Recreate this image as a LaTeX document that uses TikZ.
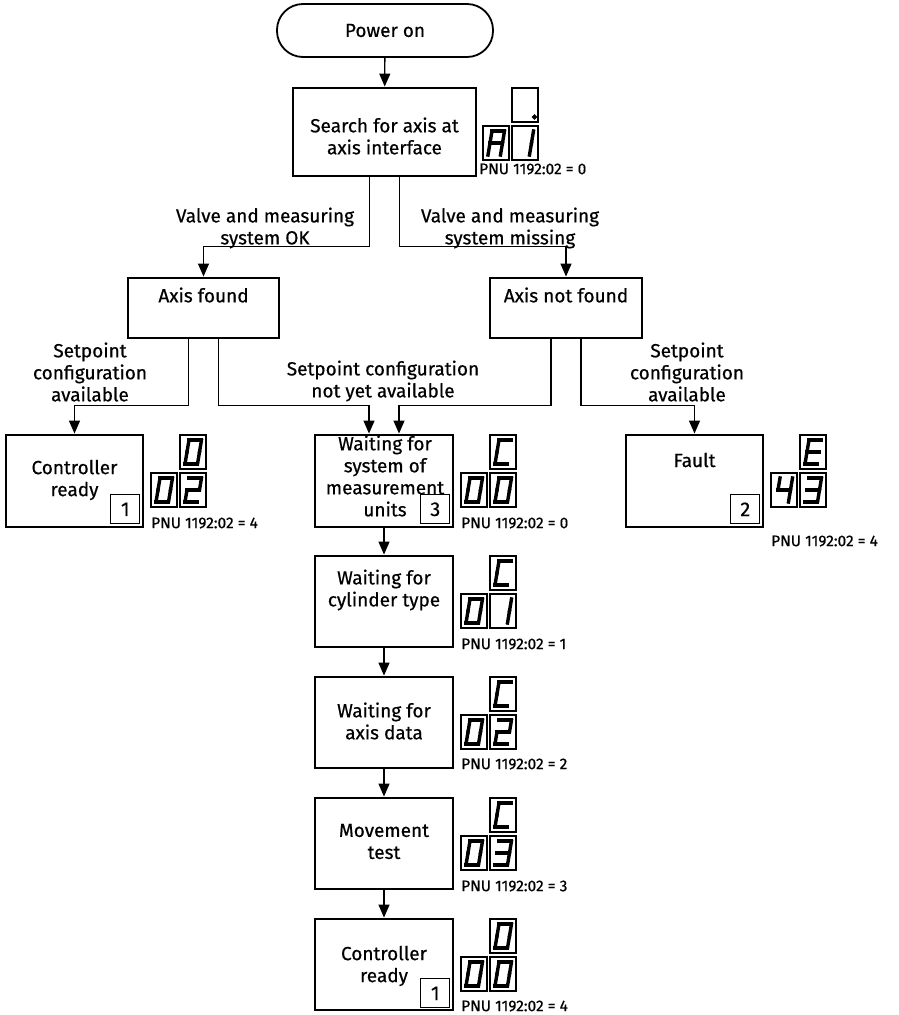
\documentclass[tikz,border=0pt]{standalone}
\usepackage{fontspec}
\setmainfont{Fira Sans}[FakeBold=0.5]
\usetikzlibrary{arrows.meta,calc}

% segment centre lines of one italic seven-segment digit (origin = top-left of its frame)
\def\segpa{(9,5)--(21.5,5)}
\def\segpb{(21.5,5)--(19.5,17)}
\def\segpc{(19.5,17)--(17.5,29)}
\def\segpd{(17.5,29)--(5,29)}
\def\segpe{(5,29)--(7,17)}
\def\segpf{(7,17)--(9,5)}
\def\segpg{(7,17)--(19.5,17)}
\def\segpp{(22.5,29) circle[radius=0.4]}

% which segments each character lights
\def\dZero{a,b,c,d,e,f}
\def\dOne{b,c}
\def\dTwo{a,b,g,e,d}
\def\dThree{a,b,g,c,d}
\def\dFour{f,g,b,c}
\def\dA{a,b,c,e,f,g}
\def\dC{a,f,e,d}
\def\dE{a,f,g,e,d}
\def\dDot{p}

\newcommand\digitbox[3]{%
  \draw[dbox] (#1,#2) rectangle ++(26,34);
  \foreach \s in #3 {\draw[seg,shift={(#1,#2)}] \csname segp\s\endcsname;}
}
% two-row display: #1,#2 = left edge / top edge, #3 top digit, #4 #5 lower digits
\newcommand\segdisplay[5]{%
  \digitbox{#1+29}{#2}{#3}
  \digitbox{#1}{#2+38}{#4}
  \digitbox{#1+29}{#2+38}{#5}
}

\begin{document}
\begin{tikzpicture}[x=1pt,y=-1pt,
  box/.style={draw,line width=2.9pt,minimum width=137pt,minimum height=92pt,inner sep=0pt},
  txt/.style={align=center,inner sep=0pt,font=\fontsize{19}{22}\selectfont},
  pnu/.style={anchor=west,inner sep=0pt,font=\fontsize{15.5}{18}\selectfont},
  badge/.style={draw,line width=1.3pt,minimum size=29pt,inner sep=0pt,anchor=south east,
                font=\fontsize{20}{22}\selectfont},
  arr/.style={line width=1.3pt,line join=miter,-{Triangle[length=13pt,width=11pt]}},
  dbox/.style={line width=1.6pt},
  seg/.style={draw=black,fill=black,line width=3.4pt,line cap=rect,line join=miter},
]
\fill[white] (0,0) rectangle (899,1015);
\useasboundingbox (0,0) rectangle (899,1015);

% ---- boxes ----
\node[draw,line width=1.8pt,rounded corners=26pt,minimum width=216pt,minimum height=53pt,
      inner sep=0pt,font=\fontsize{19}{22}\selectfont] (power) at (385,30.5) {Power on};
\node[box,minimum width=183pt,minimum height=88pt] (search) at (384.5,132) {};
\node[box,minimum width=151pt,minimum height=60pt] (afound) at (203.5,308) {};
\node[box,minimum width=152pt,minimum height=60pt] (anfound) at (566,308) {};
\node[box] (cr1) at (74.5,481) {};
\node[box,minimum width=138pt] (wunits) at (384,481) {};
\node[box] (fault) at (694.5,481) {};
\node[box,minimum width=138pt,minimum height=91pt] (wcyl) at (384,601.5) {};
\node[box,minimum width=138pt,minimum height=91pt] (wdata) at (384,722.5) {};
\node[box,minimum width=138pt,minimum height=91pt] (move) at (384,843.5) {};
\node[box,minimum width=138pt,minimum height=91pt] (cr2) at (384,964.5) {};

% ---- box texts ----
\node[txt] (searcht) at (384.5,136) {Search for axis at\\axis interface};
\node[txt] (afoundt) at (203.5,295) {Axis found};
\node[txt] (anfoundt) at (566,295) {Axis not found};
\node[txt] (cr1t) at (74.5,480) {Controller\\ready};
\node[txt] (wunitst) at (385,476) {Waiting for\\system of\\measurement\\units};
\node[txt] (faultt) at (694.5,460) {Fault};
\node[txt] (wcylt) at (384,590) {Waiting for\\cylinder type};
\node[txt] (wdatat) at (384,721) {Waiting for\\axis data};
\node[txt] (movet) at (384,841.5) {Movement\\test};
\node[txt] (cr2t) at (384,966) {Controller\\ready};

% ---- status numbers ----
\node[badge] (cr1b) at ($(cr1.south east)+(-4,-4)$) {1};
\node[badge] (wunitsb) at ($(wunits.south east)+(-4,-4)$) {3};
\node[badge] (faultb) at ($(fault.south east)+(-4,-4)$) {2};
\node[badge] (cr2b) at ($(cr2.south east)+(-4,-3)$) {1};

% ---- branch labels ----
\node[txt] (okl) at (265,228) {Valve and measuring\\system OK};
\node[txt] (missl) at (510,228) {Valve and measuring\\system missing};
\node[txt] (spl) at (90,372) {Setpoint\\configuration\\available};
\node[txt] (spm) at (383,381) {Setpoint configuration\\not yet available};
\node[txt] (spr) at (687,372) {Setpoint\\configuration\\available};

% ---- connectors ----
\draw[arr] (power) -- (search);
\draw[arr] ([xshift=-15pt]search.south) |- ($(afound.north)+(0,-30)$) -- (afound.north);
\draw[arr] ([xshift=15pt]search.south) |- ($(anfound.north)+(0,-30)$) -- (anfound.north);
\draw[arr] ([xshift=-15pt]afound.south) |- ($(cr1.north)+(0,-28)$) -- (cr1.north);
\draw[arr] ([xshift=15pt]afound.south) |- ($(wunits.north)+(-15,-28)$) -- ([xshift=-15pt]wunits.north);
\draw[arr] ([xshift=-15pt]anfound.south) |- ($(wunits.north)+(15,-28)$) -- ([xshift=15pt]wunits.north);
\draw[arr] ([xshift=15pt]anfound.south) |- ($(fault.north)+(0,-28)$) -- (fault.north);
\draw[arr] (wunits) -- (wcyl);
\draw[arr] (wcyl) -- (wdata);
\draw[arr] (wdata) -- (move);
\draw[arr] (move) -- (cr2);

% ---- seven-segment displays ----
\segdisplay{483}{88}{\dDot}{\dA}{\dOne}
\segdisplay{151}{435}{\dZero}{\dZero}{\dTwo}
\segdisplay{461}{435}{\dC}{\dZero}{\dZero}
\segdisplay{771}{435}{\dE}{\dFour}{\dThree}
\segdisplay{461}{556}{\dC}{\dZero}{\dOne}
\segdisplay{461}{677}{\dC}{\dZero}{\dTwo}
\segdisplay{461}{798}{\dC}{\dZero}{\dThree}
\segdisplay{461}{919}{\dZero}{\dZero}{\dZero}

% ---- parameter values ----
\node[pnu] (searchp) at (479,169) {PNU 1192:02 = 0};
\node[pnu] (cr1p) at (151,523) {PNU 1192:02 = 4};
\node[pnu] (wunitsp) at (461,523) {PNU 1192:02 = 0};
\node[pnu] (faultp) at (771,541) {PNU 1192:02 = 4};
\node[pnu] (wcylp) at (461,644) {PNU 1192:02 = 1};
\node[pnu] (wdatap) at (461,764) {PNU 1192:02 = 2};
\node[pnu] (movep) at (461,886) {PNU 1192:02 = 3};
\node[pnu] (cr2p) at (461,1006) {PNU 1192:02 = 4};
\end{tikzpicture}
\end{document}
